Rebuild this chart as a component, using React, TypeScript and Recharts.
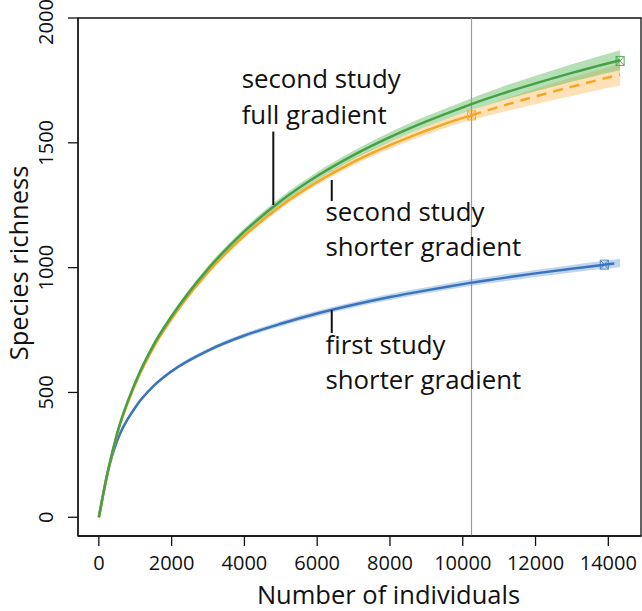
import React from "react";
import {
  ComposedChart,
  Line,
  Area,
  XAxis,
  YAxis,
  ReferenceLine,
  ReferenceArea,
  ReferenceDot,
  Label,
} from "recharts";

// sample sizes (number of individuals)
const xs = [0, 250, 500, 1000, 1500, 2000, 3000, 4000, 5000, 6000, 7000, 8000, 9000, 10000, 10240, 11000, 12000, 13000, 13890, 14325];

// second study, full gradient (observed to the end)
const green = [0, 185, 335, 540, 690, 805, 995, 1145, 1267, 1367, 1451, 1523, 1586, 1642, 1655, 1693, 1738, 1780, 1815, 1831];
const greenCI = [0, 5, 7, 9, 10, 11, 12, 13, 15, 16, 17, 19, 21, 23, 24, 27, 31, 35, 38, 40];

// second study, shorter gradient (observed to 10240, then extrapolated)
const orange = [0, 183, 331, 532, 680, 795, 982, 1128, 1247, 1343, 1424, 1491, 1549, 1600, 1610, 1644, 1686, 1725, 1758, 1774];
const orangeCI = [0, 4, 6, 7, 8, 8, 9, 10, 11, 12, 14, 15, 17, 19, 20, 25, 31, 37, 41, 44];

// first study, shorter gradient (observed to 13890)
const blue = [0, 185, 305, 440, 525, 585, 668, 728, 775, 816, 851, 882, 909, 934, 940, 956, 977, 996, 1012, 1019];
const blueCI = [0, 3, 4, 5, 6, 7, 8, 9, 10, 11, 11, 12, 12, 13, 13, 14, 14, 15, 16, 17];

const orangeObsEnd = 10240;
const blueObsEnd = 13890;
const refX = 10240;

const obsX = [14325, 10240, 13890];
const obsY = [1828, 1610, 1012];
const obsColor = ["#45a046", "#f5a623", "#3b74ba"];

const xTicks = [0, 2000, 4000, 6000, 8000, 10000, 12000, 14000];
const yTicks = [0, 500, 1000, 1500, 2000];

const notes = [
  { x: 3925, y: [1718, 1574], lines: ["second study", "full gradient"] },
  { x: 6228, y: [1185, 1045], lines: ["second study", "shorter gradient"] },
  { x: 6228, y: [654, 514], lines: ["first study", "shorter gradient"] },
];
const leaders = [
  { x: 4794, y1: 1251, y2: 1545 },
  { x: 6400, y1: 1267, y2: 1351 },
  { x: 6400, y1: 738, y2: 830 },
];

const data = xs.map((x, i) => ({
  x,
  g: green[i],
  gBand: [green[i] - greenCI[i], green[i] + greenCI[i]],
  oObs: x <= orangeObsEnd ? orange[i] : null,
  oExt: x >= orangeObsEnd ? orange[i] : null,
  oBand: [orange[i] - orangeCI[i], orange[i] + orangeCI[i]],
  bObs: x <= blueObsEnd ? blue[i] : null,
  bExt: x >= blueObsEnd ? blue[i] : null,
  bBand: [blue[i] - blueCI[i], blue[i] + blueCI[i]],
}));

const FONT = "'Open Sans', sans-serif";

const XTick = ({ x, y, payload }: any) => (
  <text x={x} y={y + 22} textAnchor="middle" fontSize={20} fontFamily={FONT} fill="#111">
    {payload.value}
  </text>
);

const YTick = ({ x, y, payload }: any) => {
  // keep the top label inside the page
  const cy = Math.max(y, 22);
  return (
    <text
      x={x - 13}
      y={cy}
      transform={`rotate(-90, ${x - 13}, ${cy})`}
      textAnchor="middle"
      fontSize={20}
      fontFamily={FONT}
      fill="#111"
    >
      {payload.value}
    </text>
  );
};

const boxCross = (color: string) => (p: any) => (
  <g stroke={color} strokeWidth={1} fill="none" opacity={0.85}>
    <rect x={p.cx - 4} y={p.cy - 4.5} width={8} height={9} />
    <line x1={p.cx - 4} y1={p.cy - 4.5} x2={p.cx + 4} y2={p.cy + 4.5} />
    <line x1={p.cx + 4} y1={p.cy - 4.5} x2={p.cx - 4} y2={p.cy + 4.5} />
  </g>
);

const noteShape = (lines: string[], idx: number) => (p: any) => (
  <text x={p.cx} y={p.cy} fontSize={25.8} fontFamily={FONT} fill="#111">
    {lines[idx]}
  </text>
);

export default function App() {
  return (
    <div style={{ position: "absolute", left: 0, top: 0, width: 642, height: 611, background: "#fff" }}>
      <ComposedChart width={642} height={611} data={data} margin={{ top: 18, right: 1, left: 0, bottom: 0 }}>
        <XAxis
          dataKey="x"
          type="number"
          domain={[-573, 14898]}
          allowDataOverflow
          ticks={xTicks}
          tickSize={10}
          tickMargin={2}
          height={75}
          tick={<XTick />}
          stroke="#111"
          tickLine={{ stroke: "#111", strokeWidth: 1.3 }}
          axisLine={{ stroke: "#111", strokeWidth: 1.3 }}
        >
          <Label
            content={(props: any) => {
              const vb = props.viewBox;
              return (
                <text x={vb.x + vb.width / 2 + 29} y={vb.y + 67.5} textAnchor="middle" fontSize={25.5} fontFamily={FONT} fill="#111">
                  Number of individuals
                </text>
              );
            }}
          />
        </XAxis>
        <YAxis
          type="number"
          domain={[-75, 2000]}
          allowDataOverflow
          ticks={yTicks}
          tickSize={10}
          tickMargin={2}
          width={78}
          tick={<YTick />}
          stroke="#111"
          tickLine={{ stroke: "#111", strokeWidth: 1.3 }}
          axisLine={{ stroke: "#111", strokeWidth: 1.3 }}
        >
          <Label
            content={(props: any) => {
              const vb = props.viewBox;
              const cx = 27.5;
              const cy = vb.y + vb.height / 2 - 14;
              return (
                <text x={cx} y={cy} transform={`rotate(-90, ${cx}, ${cy})`} textAnchor="middle" fontSize={25.5} fontFamily={FONT} fill="#111">
                  Species richness
                </text>
              );
            }}
          />
        </YAxis>

        <Area dataKey="bBand" type="monotone" stroke="none" fill="#6fa3dc" fillOpacity={0.45} isAnimationActive={false} />
        <Area dataKey="oBand" type="monotone" stroke="none" fill="#ffb44d" fillOpacity={0.4} isAnimationActive={false} />
        <Area dataKey="gBand" type="monotone" stroke="none" fill="#5cb85c" fillOpacity={0.45} isAnimationActive={false} />

        <ReferenceLine x={refX} stroke="#9a9a9a" strokeWidth={1.2} />

        <Line dataKey="bObs" type="monotone" stroke="#3b74ba" strokeWidth={2.5} dot={false} isAnimationActive={false} />
        <Line dataKey="bExt" type="monotone" stroke="#3b74ba" strokeWidth={2.5} strokeDasharray="10 7" dot={false} isAnimationActive={false} />
        <Line dataKey="oObs" type="monotone" stroke="#f5a623" strokeWidth={2.5} dot={false} isAnimationActive={false} />
        <Line dataKey="oExt" type="monotone" stroke="#f5a623" strokeWidth={2.5} strokeDasharray="10 7" dot={false} isAnimationActive={false} />
        <Line dataKey="g" type="monotone" stroke="#45a046" strokeWidth={2.5} dot={false} isAnimationActive={false} />

        {obsX.map((x, i) => (
          <ReferenceDot key={"o" + i} x={x} y={obsY[i]} r={4} shape={boxCross(obsColor[i])} />
        ))}

        {leaders.map((l, i) => (
          <ReferenceLine
            key={"l" + i}
            segment={[
              { x: l.x, y: l.y1 },
              { x: l.x, y: l.y2 },
            ]}
            stroke="#111"
            strokeWidth={2}
          />
        ))}

        {notes.map((n, i) =>
          n.lines.map((_, j) => (
            <ReferenceDot key={`n${i}${j}`} x={n.x} y={n.y[j]} r={1} shape={noteShape(n.lines, j)} />
          ))
        )}

        <ReferenceArea x1={-573} x2={14898} y1={-75} y2={2000} fill="none" stroke="#111" strokeWidth={1.3} />
      </ComposedChart>
    </div>
  );
}
